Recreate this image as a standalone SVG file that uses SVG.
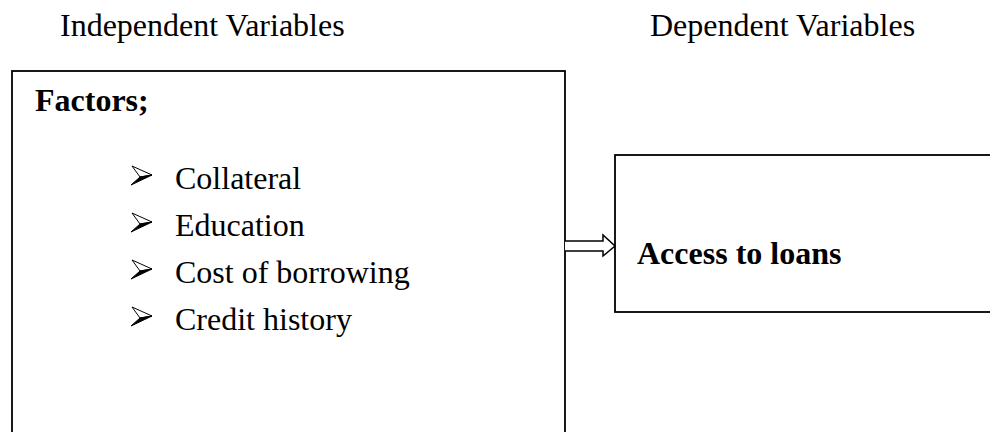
<svg xmlns="http://www.w3.org/2000/svg" width="990" height="432" viewBox="0 0 990 432">
<style>
.t{font-family:"Liberation Serif","Times New Roman",serif;font-size:32px;fill:#000}
.b{font-weight:bold}
.box{fill:#fff;stroke:#000;stroke-width:1.8}
</style>
<defs>
<g id="bul">
<path d="M1,0 L21,9 L9,11 Z" fill="#fff" stroke="#000" stroke-width="1"/>
<path d="M9,11 L21,9 L0,19 Z" fill="#000" stroke="#000" stroke-width="1" stroke-linejoin="round"/>
</g>
</defs>
<rect width="990" height="432" fill="#fff"/>
<text class="t" x="60" y="36">Independent Variables</text>
<text class="t" x="650" y="36">Dependent Variables</text>
<g id="factors">
<rect class="box" x="12" y="71" width="553" height="380"/>
<text class="t b" x="35" y="111">Factors;</text>
<use href="#bul" x="131" y="166"/>
<text class="t" x="175" y="189">Collateral</text>
<use href="#bul" x="131" y="213"/>
<text class="t" x="175" y="236">Education</text>
<use href="#bul" x="131" y="260"/>
<text class="t" x="175" y="283">Cost of borrowing</text>
<use href="#bul" x="131" y="307"/>
<text class="t" x="175" y="330">Credit history</text>
</g>
<g id="access">
<rect class="box" x="615" y="155" width="390" height="157"/>
<text class="t b" x="637" y="264">Access to loans</text>
</g>
<g id="connectors">
<path d="M565,241 H603 V235 L615,246 L603,256 V251 H565" fill="#fff" stroke="#000" stroke-width="1.5" stroke-linejoin="miter"/>
</g>
</svg>
